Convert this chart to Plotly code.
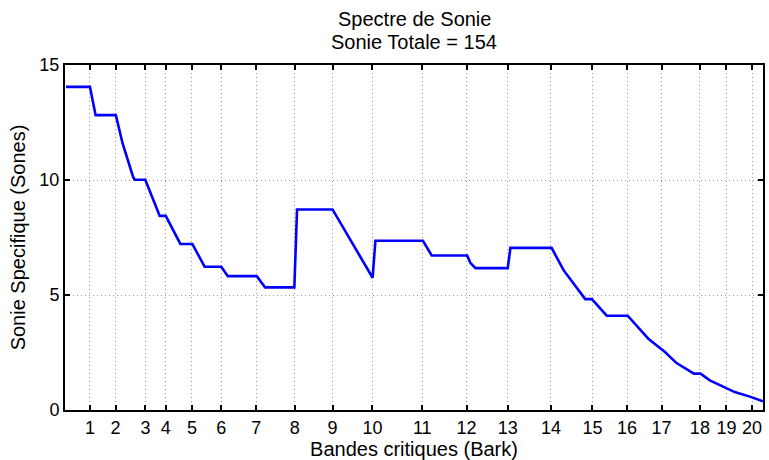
import plotly.graph_objects as go

# Curve positions (axis units along the horizontal scale) and specific loudness values
x_pos = [1, 25, 30.7, 51, 57.7, 68.3, 70, 80.5, 95, 101, 115.7, 127.7, 140, 156.7,
         163.3, 192.3, 200.7, 230, 232.7, 268.3, 308.5, 311.3, 359, 367.7, 403.3,
         406.5, 411.7, 444, 446.7, 488, 500, 521.7, 528.3, 543.3, 564.3, 585, 601.7,
         613.3, 630.7, 637.3, 646.7, 671.7, 688.3, 700]
sonie = [14.05, 14.05, 12.82, 12.82, 11.6, 10.13, 10.01, 10.01, 8.44, 8.44, 7.22,
         7.22, 6.23, 6.23, 5.82, 5.82, 5.33, 5.33, 8.72, 8.72, 5.75, 7.36, 7.36,
         6.72, 6.72, 6.4, 6.17, 6.17, 7.05, 7.05, 6.08, 4.82, 4.82, 4.1, 4.1, 3.1,
         2.52, 2.04, 1.58, 1.58, 1.29, 0.78, 0.56, 0.38]

# Bark tick positions on the horizontal scale and their labels
bark_tick_pos = [25, 50.7, 80.7, 101, 127.3, 156.7, 191.7, 230.3, 268.3, 308.3,
                 358.3, 402.7, 444, 487.3, 529, 563.7, 598.3, 636.7, 663.3, 689]
bark_tick_labels = [str(i) for i in range(1, 21)]
y_ticks = [0, 5, 10, 15]

title_lines = ["Spectre de Sonie", "Sonie Totale = 154"]

FONT = "Liberation Sans, Arial, Helvetica, sans-serif"

fig = go.Figure()
fig.add_trace(go.Scatter(x=x_pos, y=sonie, mode="lines",
                         line=dict(color="#0000FF", width=2.6),
                         showlegend=False, hoverinfo="skip"))

axis_common = dict(
    showline=True, linecolor="black", linewidth=2, mirror="ticks",
    ticks="inside", ticklen=5, tickwidth=2, tickcolor="black",
    showgrid=True, gridcolor="#9a9a9a", griddash="1px,3px", gridwidth=1,
    zeroline=False, tickfont=dict(family=FONT, size=18, color="black"),
)

fig.update_layout(
    width=769, height=460,
    margin=dict(l=65, r=4, t=65, b=50),
    paper_bgcolor="white", plot_bgcolor="white",
    font=dict(family=FONT, size=18, color="black"),
    xaxis=dict(range=[0, 700], tickmode="array", tickvals=bark_tick_pos,
               ticktext=bark_tick_labels,
               title=dict(text="Bandes critiques (Bark)", standoff=0,
                          font=dict(family=FONT, size=20)),
               **axis_common),
    yaxis=dict(range=[0, 15], tickmode="array", tickvals=y_ticks,
               title=dict(text="Sonie Specifique (Sones)", standoff=8,
                          font=dict(family=FONT, size=20)),
               **axis_common),
)

for text, ypos in zip(title_lines, [1.133, 1.068]):
    fig.add_annotation(text=text, x=0.5, xref="paper", y=ypos, yref="paper",
                       xanchor="center", yanchor="middle", showarrow=False,
                       font=dict(family=FONT, size=20, color="black"))

fig.write_html("out.html", config={"displayModeBar": False},
               post_script="document.body.style.margin='0';")
